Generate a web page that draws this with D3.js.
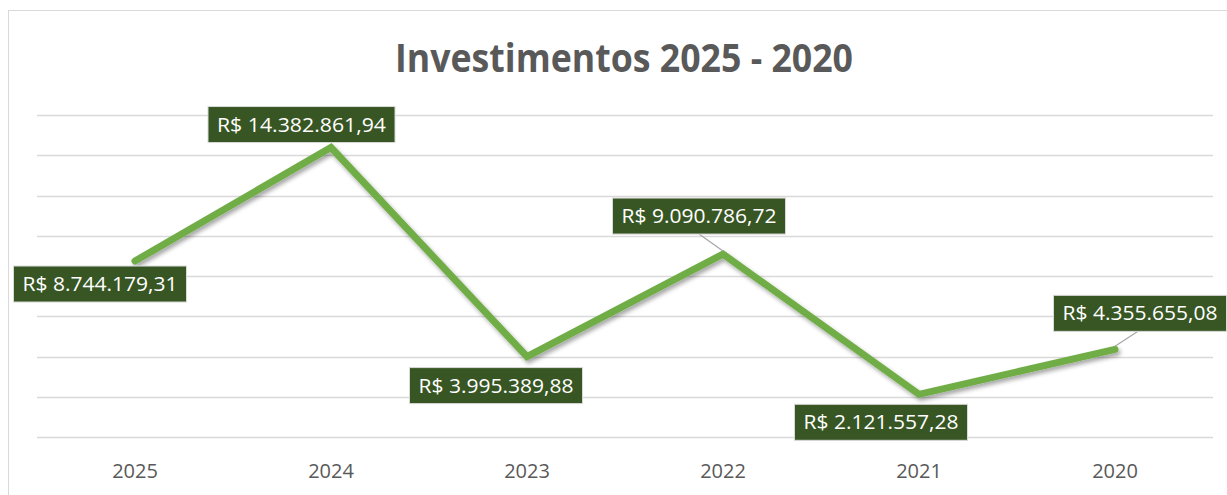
<!DOCTYPE html>
<html>
<head>
<meta charset="utf-8">
<script src="https://cdn.jsdelivr.net/npm/d3@7"></script>
<style>
  html, body { margin: 0; padding: 0; background: #fff; }
  svg { display: block; }
</style>
</head>
<body>
<svg id="chart" width="1227" height="495"></svg>
<script>
// ---- data ----
const categories = ["2025", "2024", "2023", "2022", "2021", "2020"];
const values = [8744179.31, 14382861.94, 3995389.88, 9090786.72, 2121557.28, 4355655.08];
const yTicks = [0, 2000000, 4000000, 6000000, 8000000, 10000000, 12000000, 14000000, 16000000];
const title = "Investimentos 2025 - 2020";

// ---- layout ----
const W = 1227, H = 495;
const plot = { left: 37, right: 1213, top: 115, bottom: 437 };
// label box center offsets relative to the point (px)
const labelOffsets = [[-35, 23], [-29.5, -23], [-31, 29], [-24, -38], [-38, 28], [25, -36]];
const leaders = [false, false, false, true, false, true];

const svg = d3.select("#chart");

const fmt = v => "R$ " + v.toLocaleString("pt-BR", { minimumFractionDigits: 2, maximumFractionDigits: 2 });
function fmtPt(v) {
  const parts = v.toFixed(2).split(".");
  const int = parts[0].replace(/\B(?=(\d{3})+(?!\d))/g, ".");
  return "R$ " + int + "," + parts[1];
}

const x = d3.scaleBand().domain(categories).range([plot.left, plot.right]).padding(0);
const y = d3.scaleLinear().domain([0, 16000000]).range([plot.bottom, plot.top]);

// outer border
svg.append("rect").attr("x", 8.5).attr("y", 10.5).attr("width", W + 20).attr("height", H + 20)
  .attr("fill", "#fff").attr("stroke", "#d9d9d9").attr("stroke-width", 1);

// shadow filter
const defs = svg.append("defs");
const f = defs.append("filter").attr("id", "shadow").attr("x", "-10%").attr("y", "-10%").attr("width", "120%").attr("height", "130%");
f.append("feDropShadow").attr("dx", 2).attr("dy", 3).attr("stdDeviation", 2.2)
  .attr("flood-color", "#000").attr("flood-opacity", 0.35);

// gridlines
svg.append("g").selectAll("line").data(yTicks).join("line")
  .attr("x1", plot.left).attr("x2", plot.right)
  .attr("y1", d => Math.round(y(d)) + 0.5).attr("y2", d => Math.round(y(d)) + 0.5)
  .attr("stroke", "#d9d9d9").attr("stroke-width", 1.5);

// x axis labels
const xAxis = d3.axisBottom(x).tickSize(0).tickPadding(0);
const gx = svg.append("g").attr("transform", `translate(0,${plot.bottom})`).call(xAxis);
gx.select(".domain").remove();
gx.selectAll("text")
  .attr("y", 41).attr("dy", 0)
  .attr("font-family", "'Open Sans', sans-serif").attr("font-size", 20).attr("fill", "#595959");

// title
svg.append("text").attr("x", 624).attr("y", 72).attr("text-anchor", "middle")
  .attr("font-family", "'Open Sans', sans-serif").attr("font-weight", "bold").attr("font-size", 40)
  .attr("fill", "#595959").attr("textLength", 458).attr("lengthAdjust", "spacingAndGlyphs")
  .text(title);

// line
const pts = categories.map((c, i) => [x(c) + x.bandwidth() / 2, y(values[i])]);
const line = d3.line();
svg.append("path").attr("d", line(pts)).attr("fill", "none")
  .attr("stroke", "#70ad47").attr("stroke-width", 7).attr("stroke-linejoin", "miter")
  .attr("stroke-linecap", "round").attr("filter", "url(#shadow)");

// labels
const boxH = 36;
const lg = svg.append("g");
values.forEach((v, i) => {
  const [px, py] = pts[i];
  const cx = px + labelOffsets[i][0], cy = py + labelOffsets[i][1];
  const txt = fmtPt(v);
  const tw = txt.length === 16 ? 169 : 155;
  const bw = tw + 18;
  if (leaders[i]) {
    const ey = labelOffsets[i][1] < 0 ? cy + boxH / 2 : cy - boxH / 2;
    const ex = cx + (labelOffsets[i][0] < 0 ? 0 : -2);
    lg.append("line").attr("x1", ex).attr("y1", ey).attr("x2", px).attr("y2", py - 3)
      .attr("stroke", "#a6a6a6").attr("stroke-width", 1.2);
  }
  lg.append("rect").attr("x", cx - bw / 2).attr("y", cy - boxH / 2).attr("width", bw).attr("height", boxH)
    .attr("fill", "#375623").attr("stroke", "#d9d9d9").attr("stroke-width", 1);
  lg.append("text").attr("x", cx).attr("y", cy + 7).attr("text-anchor", "middle")
    .attr("font-family", "'Open Sans', sans-serif").attr("font-size", 19.5).attr("fill", "#fff")
    .attr("textLength", tw).attr("lengthAdjust", "spacingAndGlyphs")
    .text(txt);
});
</script>
</body>
</html>
